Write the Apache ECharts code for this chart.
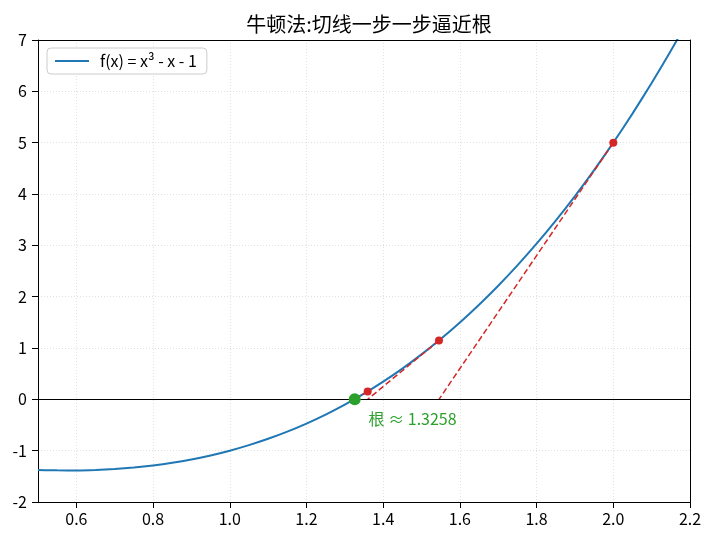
<!DOCTYPE html>
<html>
<head>
<meta charset="utf-8">
<script src="https://cdn.jsdelivr.net/npm/echarts@6/dist/echarts.min.js"></script>
<style>
  html, body { margin: 0; padding: 0; background: #fff; }
  #chart { width: 713px; height: 542px; }
</style>
</head>
<body>
<div id="chart"></div>
<script>
// f(x) = x^3 - x - 1, sampled
const curveX = [0.50, 0.55, 0.60, 0.65, 0.70, 0.75, 0.80, 0.85, 0.90, 0.95,
  1.00, 1.05, 1.10, 1.15, 1.20, 1.25, 1.30, 1.35, 1.40, 1.45,
  1.50, 1.55, 1.60, 1.65, 1.70, 1.75, 1.80, 1.85, 1.90, 1.95,
  2.00, 2.05, 2.10, 2.15, 2.20];
const curveY = [-1.375, -1.3836, -1.384, -1.3754, -1.357, -1.3281, -1.288, -1.2359, -1.171, -1.0926,
  -1.0, -0.8924, -0.769, -0.6291, -0.472, -0.2969, -0.103, 0.1104, 0.344, 0.5986,
  0.875, 1.1739, 1.496, 1.8421, 2.213, 2.6094, 3.032, 3.4816, 3.959, 4.4649,
  5.0, 5.5651, 6.161, 6.7884, 7.448];

// Newton iterates (x_n, f(x_n)) and where each tangent hits y = 0
const iterX = [2.0, 1.5455, 1.3596];
const iterY = [5.0, 1.1458, 0.1536];
const nextX = [1.5455, 1.3596, 1.3258];

const root = [1.3258, 0];
const rootLabel = '根 ≈ 1.3258';
const legendName = 'f(x) = x³ - x - 1';

const xTicks = [0.6, 0.8, 1.0, 1.2, 1.4, 1.6, 1.8, 2.0, 2.2];

const FONT = 'Noto Sans CJK SC';
const BLUE = '#1f77b4';
const RED = '#d62728';
const GREEN = '#2ca02c';

const chart = echarts.init(document.getElementById('chart'));

const tangentSeries = iterX.map((x, i) => ({
  type: 'line',
  data: [[x, iterY[i]], [nextX[i], 0]],
  symbol: 'none',
  lineStyle: { color: RED, width: 1.5, type: [6, 3] },
  z: 3,
  silent: true,
}));

const gridLine = { show: true, lineStyle: { color: '#d9d9d9', type: [1, 2], width: 0.8 } };
// top / right spines, drawn as bare axes above everything
const spine = (pos, min, max) => ({
  type: 'value', position: pos, min, max, z: 10,
  axisLine: { show: true, onZero: false, lineStyle: { color: '#000', width: 1 } },
  axisTick: { show: false }, axisLabel: { show: false }, splitLine: { show: false },
});

const option = {
  animation: false,
  textStyle: { fontFamily: FONT },
  title: {
    text: '牛顿法:切线一步一步逼近根',
    left: 364,
    top: 9,
    textAlign: 'center',
    textStyle: { fontFamily: FONT, fontSize: 20, fontWeight: 'normal', color: '#000' },
  },
  legend: {
    data: [{ name: legendName, icon: 'rect' }],
    left: 47,
    top: 48,
    backgroundColor: '#fff',
    borderColor: '#cccccc',
    borderWidth: 1,
    borderRadius: 4,
    padding: [5, 10, 5, 8],
    itemWidth: 34,
    itemHeight: 2,
    textStyle: { fontFamily: FONT, fontSize: 16, color: '#000', padding: [0, 0, 0, 6] },
  },
  grid: { left: 38, right: 23, top: 40, bottom: 40 },
  xAxis: [{
    type: 'value',
    min: 0.5,
    max: 2.2,
    axisLine: { show: true, onZero: false, lineStyle: { color: '#000', width: 1 } },
    axisTick: { show: true, inside: false, length: 6, customValues: xTicks, lineStyle: { color: '#000' } },
    axisLabel: {
      customValues: xTicks,
      color: '#000', fontSize: 16, fontFamily: FONT, margin: 9,
      formatter: (v) => v.toFixed(1),
    },
    splitLine: gridLine,
  }, spine('top', 0.5, 2.2)],
  yAxis: [{
    type: 'value',
    min: -2,
    max: 7,
    interval: 1,
    axisLine: { show: true, onZero: false, lineStyle: { color: '#000', width: 1 } },
    axisTick: { show: true, inside: false, length: 6, lineStyle: { color: '#000' } },
    axisLabel: { color: '#000', fontSize: 16, fontFamily: FONT, margin: 11 },
    splitLine: gridLine,
  }, spine('right', -2, 7)],
  series: [
    {
      name: legendName,
      type: 'line',
      data: curveX.map((x, i) => [x, curveY[i]]),
      symbol: 'none',
      smooth: 0.2,
      lineStyle: { color: BLUE, width: 2 },
      itemStyle: { color: BLUE },
      z: 2,
      markLine: {
        silent: true,
        symbol: 'none',
        label: { show: false },
        lineStyle: { color: '#000', width: 1, type: 'solid' },
        data: [{ yAxis: 0 }],
      },
    },
    ...tangentSeries,
    {
      type: 'scatter',
      data: iterX.map((x, i) => [x, iterY[i]]),
      symbolSize: 8,
      itemStyle: { color: RED, opacity: 1 },
      z: 4,
    },
    {
      type: 'scatter',
      data: [root],
      symbolSize: 12,
      itemStyle: { color: GREEN, opacity: 1 },
      z: 5,
    },
    {
      type: 'scatter',
      data: [[1.362, -0.38]],
      symbolSize: 0,
      silent: true,
      itemStyle: { color: GREEN, opacity: 1 },
      label: {
        show: true,
        formatter: rootLabel,
        position: 'right',
        distance: 0,
        color: GREEN,
        fontSize: 16,
        fontFamily: FONT,
      },
      z: 5,
    },
  ],
};

chart.setOption(option);
</script>
</body>
</html>
